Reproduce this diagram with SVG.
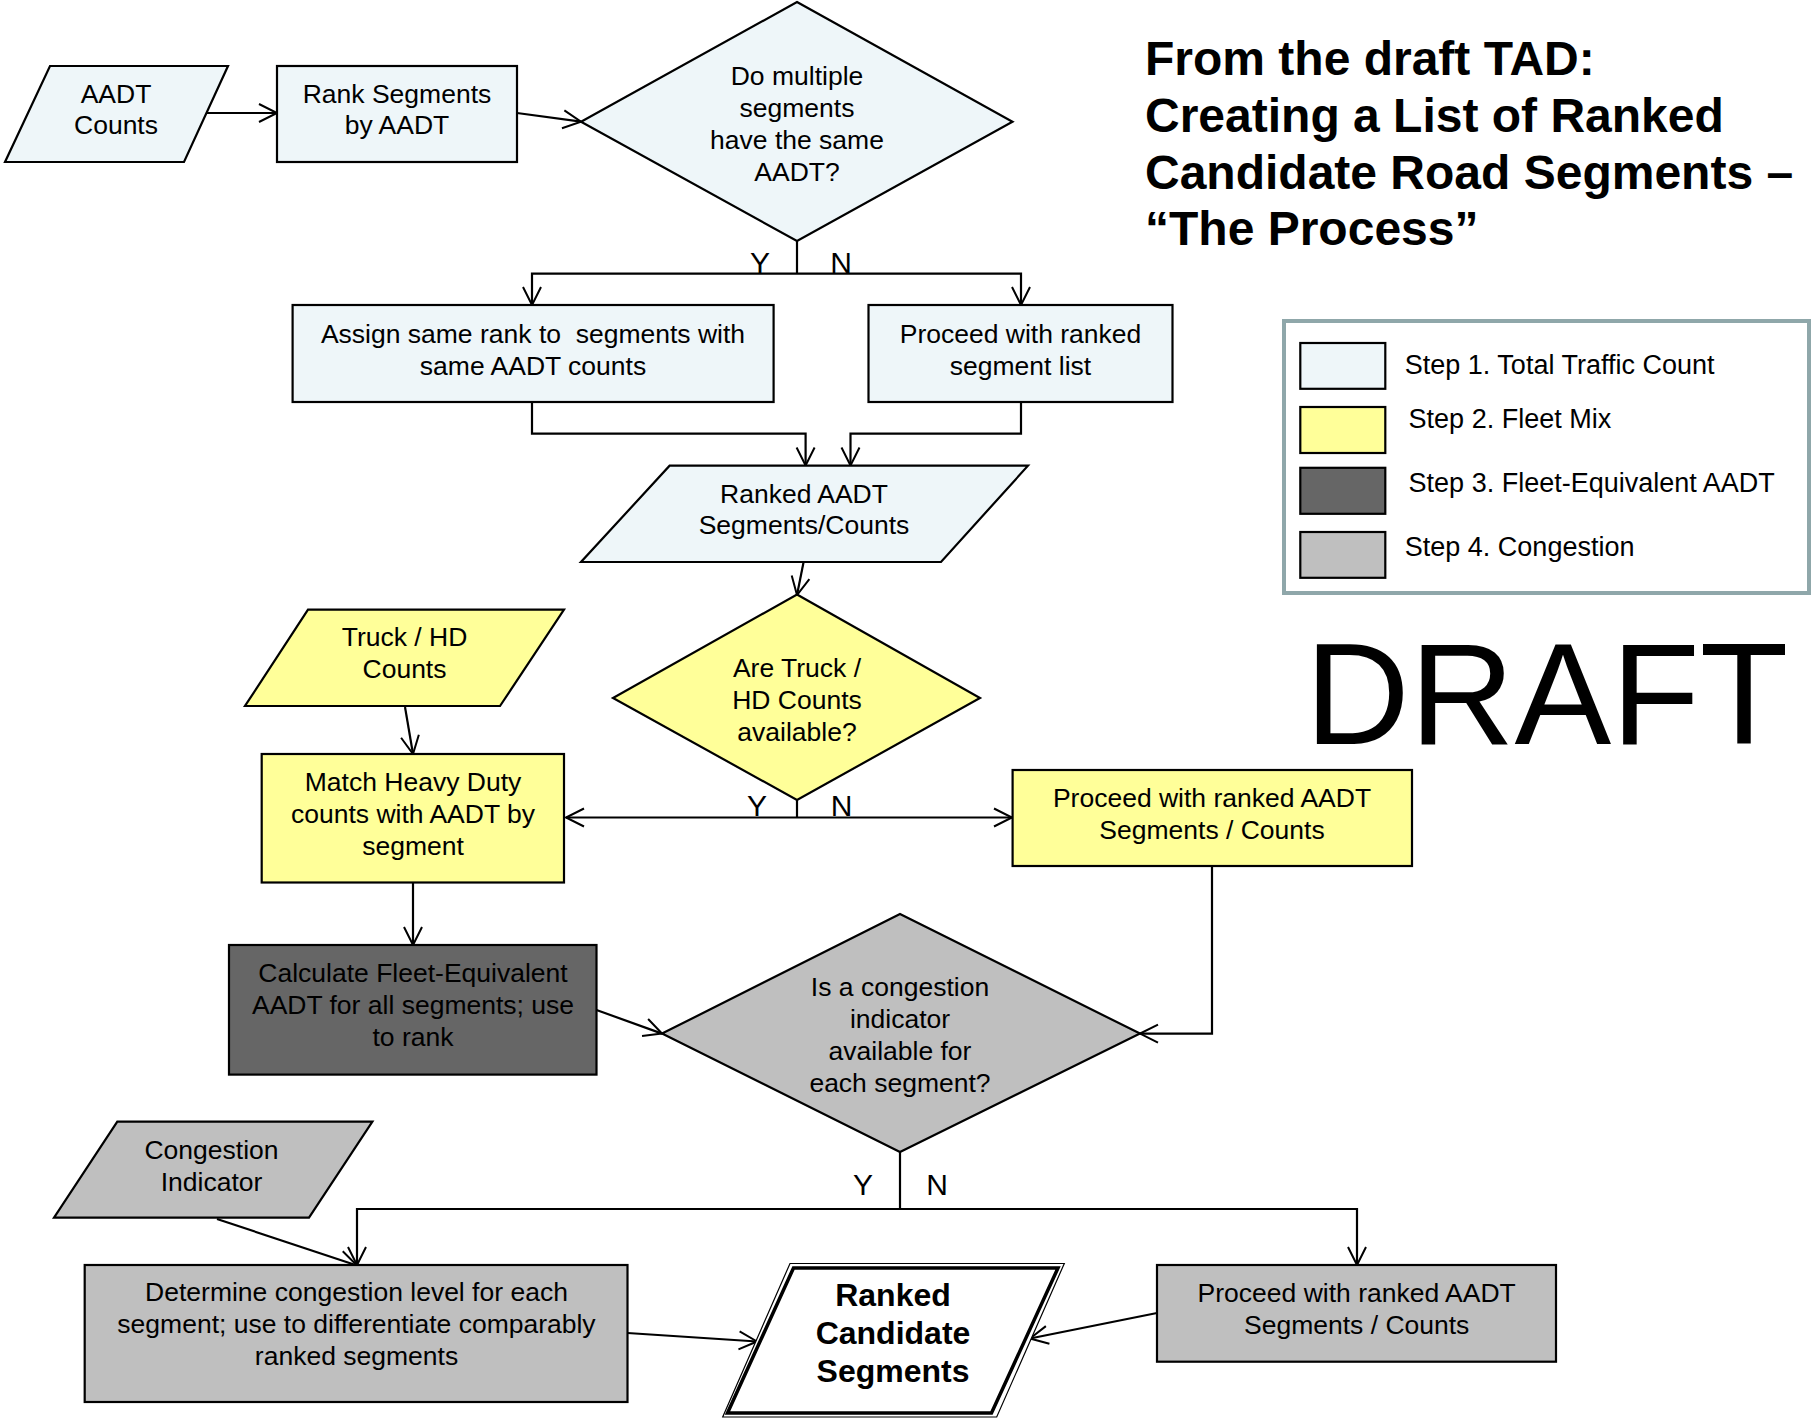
<svg xmlns="http://www.w3.org/2000/svg" width="1812" height="1418" viewBox="0 0 1812 1418">
<defs>
<style>
.t{font-family:"Liberation Sans",Arial,sans-serif;font-size:26.5px;fill:#000;text-anchor:middle}
.yn{font-family:"Liberation Sans",Arial,sans-serif;font-size:30px;fill:#000;text-anchor:middle}
.lg{font-family:"Liberation Sans",Arial,sans-serif;font-size:27px;fill:#000}
.ti{font-family:"Liberation Sans",Arial,sans-serif;font-size:48px;font-weight:bold;fill:#000}
.s1{fill:#EEF6F9;stroke:#000;stroke-width:2.2}
.s2{fill:#FFFF99;stroke:#000;stroke-width:2.2}
.s3{fill:#666666;stroke:#000;stroke-width:2.2}
.s4{fill:#BFBFBF;stroke:#000;stroke-width:2.2}
.c{fill:none;stroke:#000;stroke-width:2.2}
.ca{fill:none;stroke:#000;stroke-width:2.2;marker-end:url(#ah)}
</style>
<marker id="ah" markerUnits="userSpaceOnUse" markerWidth="22" markerHeight="22" refX="19" refY="10" orient="auto" viewBox="0 0 22 20">
<path d="M1,1 L19,10 L1,19" fill="none" stroke="#000" stroke-width="2"/>
</marker>
</defs>
<rect width="1812" height="1418" fill="#fff"/>

<g id="connectors">
<line class="ca" x1="206" y1="113" x2="277" y2="113"/>
<line class="ca" x1="517" y1="113" x2="581" y2="121.7"/>
<polyline class="c" points="797,241 797,273.6"/>
<polyline class="ca" points="797,273.6 532,273.6 532,305"/>
<polyline class="ca" points="797,273.6 1021,273.6 1021,305"/>
<polyline class="ca" points="532,402 532,433.6 805.6,433.6 805.6,465.5"/>
<polyline class="ca" points="1021,402 1021,433.6 850.5,433.6 850.5,465.5"/>
<line class="ca" x1="803.6" y1="562" x2="797" y2="595"/>
<line class="ca" x1="405" y1="707" x2="413" y2="754"/>
<polyline class="c" points="797,800 797,817.5"/>
<line class="ca" x1="797" y1="817.5" x2="566" y2="817.5"/>
<line class="ca" x1="797" y1="817.5" x2="1012" y2="817.5"/>
<line class="ca" x1="413" y1="882.5" x2="413" y2="945"/>
<polyline class="ca" points="1212,866 1212,1033.6 1140,1033.6"/>
<line class="ca" x1="596.5" y1="1010" x2="662" y2="1033.6"/>
<polyline class="c" points="900,1152 900,1209"/>
<polyline class="ca" points="900,1209 357,1209 357,1265"/>
<polyline class="ca" points="900,1209 1357,1209 1357,1265"/>
<line class="ca" x1="217" y1="1219" x2="357" y2="1265.5"/>
<line class="ca" x1="627.5" y1="1333" x2="757" y2="1341.5"/>
<line class="ca" x1="1157" y1="1313" x2="1030" y2="1338.5"/>
</g>

<g id="aadt-counts">
<polygon class="s1" points="50,66 228,66 184,162 5,162"/>
<text class="t" x="116" y="103">AADT</text>
<text class="t" x="116" y="134">Counts</text>
</g>

<g id="rank-segments">
<rect class="s1" x="277" y="66" width="240" height="96"/>
<text class="t" x="397" y="103">Rank Segments</text>
<text class="t" x="397" y="134">by AADT</text>
</g>

<g id="decision-same-aadt">
<polygon class="s1" points="797,2 1012.5,121.7 797,241 581,121.7"/>
<text class="t" x="797" y="85">Do multiple</text>
<text class="t" x="797" y="117">segments</text>
<text class="t" x="797" y="148.5">have the same</text>
<text class="t" x="797" y="180.5">AADT?</text>
</g>
<g id="yn-1">
<text class="yn" x="760" y="272.5">Y</text>
<text class="yn" x="841" y="272.5">N</text>
</g>

<g id="assign-same-rank">
<rect class="s1" x="292.6" y="305" width="481" height="97"/>
<text class="t" x="533" y="343" xml:space="preserve">Assign same rank to  segments with</text>
<text class="t" x="533" y="374.5">same AADT counts</text>
</g>

<g id="proceed-ranked-list">
<rect class="s1" x="868.5" y="305" width="304" height="97"/>
<text class="t" x="1020.5" y="343">Proceed with ranked</text>
<text class="t" x="1020.5" y="374.5">segment list</text>
</g>

<g id="ranked-aadt">
<polygon class="s1" points="669.6,465.7 1028,465.7 941,562 581,562"/>
<text class="t" x="804" y="502.6">Ranked AADT</text>
<text class="t" x="804" y="534.4">Segments/Counts</text>
</g>

<g id="truck-hd-counts">
<polygon class="s2" points="308,609.6 564,609.6 500,706 245,706"/>
<text class="t" x="404.5" y="646">Truck / HD</text>
<text class="t" x="404.5" y="678">Counts</text>
</g>

<g id="decision-truck">
<polygon class="s2" points="797,594.5 980,698 797,800 613,698"/>
<text class="t" x="797" y="676.5">Are Truck /</text>
<text class="t" x="797" y="708.6">HD Counts</text>
<text class="t" x="797" y="740.8">available?</text>
</g>
<g id="yn-2">
<text class="yn" x="757" y="816">Y</text>
<text class="yn" x="841.5" y="816">N</text>
</g>

<g id="match-heavy-duty">
<rect class="s2" x="261.7" y="754" width="302.3" height="128.5"/>
<text class="t" x="413" y="791">Match Heavy Duty</text>
<text class="t" x="413" y="823">counts with AADT by</text>
<text class="t" x="413" y="855">segment</text>
</g>

<g id="proceed-ranked-aadt-2">
<rect class="s2" x="1012.6" y="770" width="399.4" height="96"/>
<text class="t" x="1212" y="807">Proceed with ranked AADT</text>
<text class="t" x="1212" y="839">Segments / Counts</text>
</g>

<g id="calc-fleet-equivalent">
<rect class="s3" x="229" y="945" width="367.5" height="129.6"/>
<text class="t" x="413" y="982">Calculate Fleet-Equivalent</text>
<text class="t" x="413" y="1014">AADT for all segments; use</text>
<text class="t" x="413" y="1046">to rank</text>
</g>

<g id="decision-congestion">
<polygon class="s4" points="900,914 1140,1033.6 900,1152 662,1033.6"/>
<text class="t" x="900" y="996">Is a congestion</text>
<text class="t" x="900" y="1028">indicator</text>
<text class="t" x="900" y="1060">available for</text>
<text class="t" x="900" y="1092">each segment?</text>
</g>
<g id="yn-3">
<text class="yn" x="863" y="1195">Y</text>
<text class="yn" x="937" y="1195">N</text>
</g>

<g id="congestion-indicator">
<polygon class="s4" points="117.3,1121.7 372.4,1121.7 309,1217.7 54,1217.7"/>
<text class="t" x="211.5" y="1159">Congestion</text>
<text class="t" x="211.5" y="1191">Indicator</text>
</g>

<g id="determine-congestion">
<rect class="s4" x="84.7" y="1265" width="542.8" height="137"/>
<text class="t" x="356.5" y="1301">Determine congestion level for each</text>
<text class="t" x="356.5" y="1333">segment; use to differentiate comparably</text>
<text class="t" x="356.5" y="1365">ranked segments</text>
</g>

<g id="ranked-candidate-segments">
<polygon points="790,1263.5 1064.3,1263.5 996.7,1417 722.7,1417" fill="#fff" stroke="#000" stroke-width="1.2"/>
<polygon points="793.5,1268 1058,1268 991.5,1413 727.5,1413" fill="#fff" stroke="#000" stroke-width="3.5"/>
<text class="t" x="893" y="1306" style="font-weight:bold;font-size:32px">Ranked</text>
<text class="t" x="893" y="1344" style="font-weight:bold;font-size:32px">Candidate</text>
<text class="t" x="893" y="1382" style="font-weight:bold;font-size:32px">Segments</text>
</g>

<g id="proceed-ranked-aadt-3">
<rect class="s4" x="1157" y="1265" width="399" height="96.7"/>
<text class="t" x="1356.7" y="1302">Proceed with ranked AADT</text>
<text class="t" x="1356.7" y="1334">Segments / Counts</text>
</g>

<g id="title">
<text class="ti" x="1145" y="75">From the draft TAD:</text>
<text class="ti" x="1145" y="132">Creating a List of Ranked</text>
<text class="ti" x="1145" y="188.5">Candidate Road Segments –</text>
<text class="ti" x="1145" y="245">“The Process”</text>
</g>

<g id="legend">
<rect x="1284" y="321" width="525" height="272" fill="#fff" stroke="#8FA7AA" stroke-width="4"/>
<rect class="s1" x="1300.3" y="343" width="85" height="45.8"/>
<rect class="s2" x="1300.3" y="407" width="85" height="46"/>
<rect class="s3" x="1300.3" y="467.8" width="85" height="46"/>
<rect class="s4" x="1300.3" y="532" width="85" height="45.8"/>
<text class="lg" x="1404.8" y="374">Step 1. Total Traffic Count</text>
<text class="lg" x="1408.6" y="427.5">Step 2. Fleet Mix</text>
<text class="lg" x="1408.6" y="492">Step 3. Fleet-Equivalent AADT</text>
<text class="lg" x="1404.8" y="556">Step 4. Congestion</text>
</g>

<g id="draft">
<text x="1305" y="744" style="font-family:'Liberation Sans',Arial,sans-serif;font-size:145px;fill:#000">DRAFT</text>
</g>
</svg>
